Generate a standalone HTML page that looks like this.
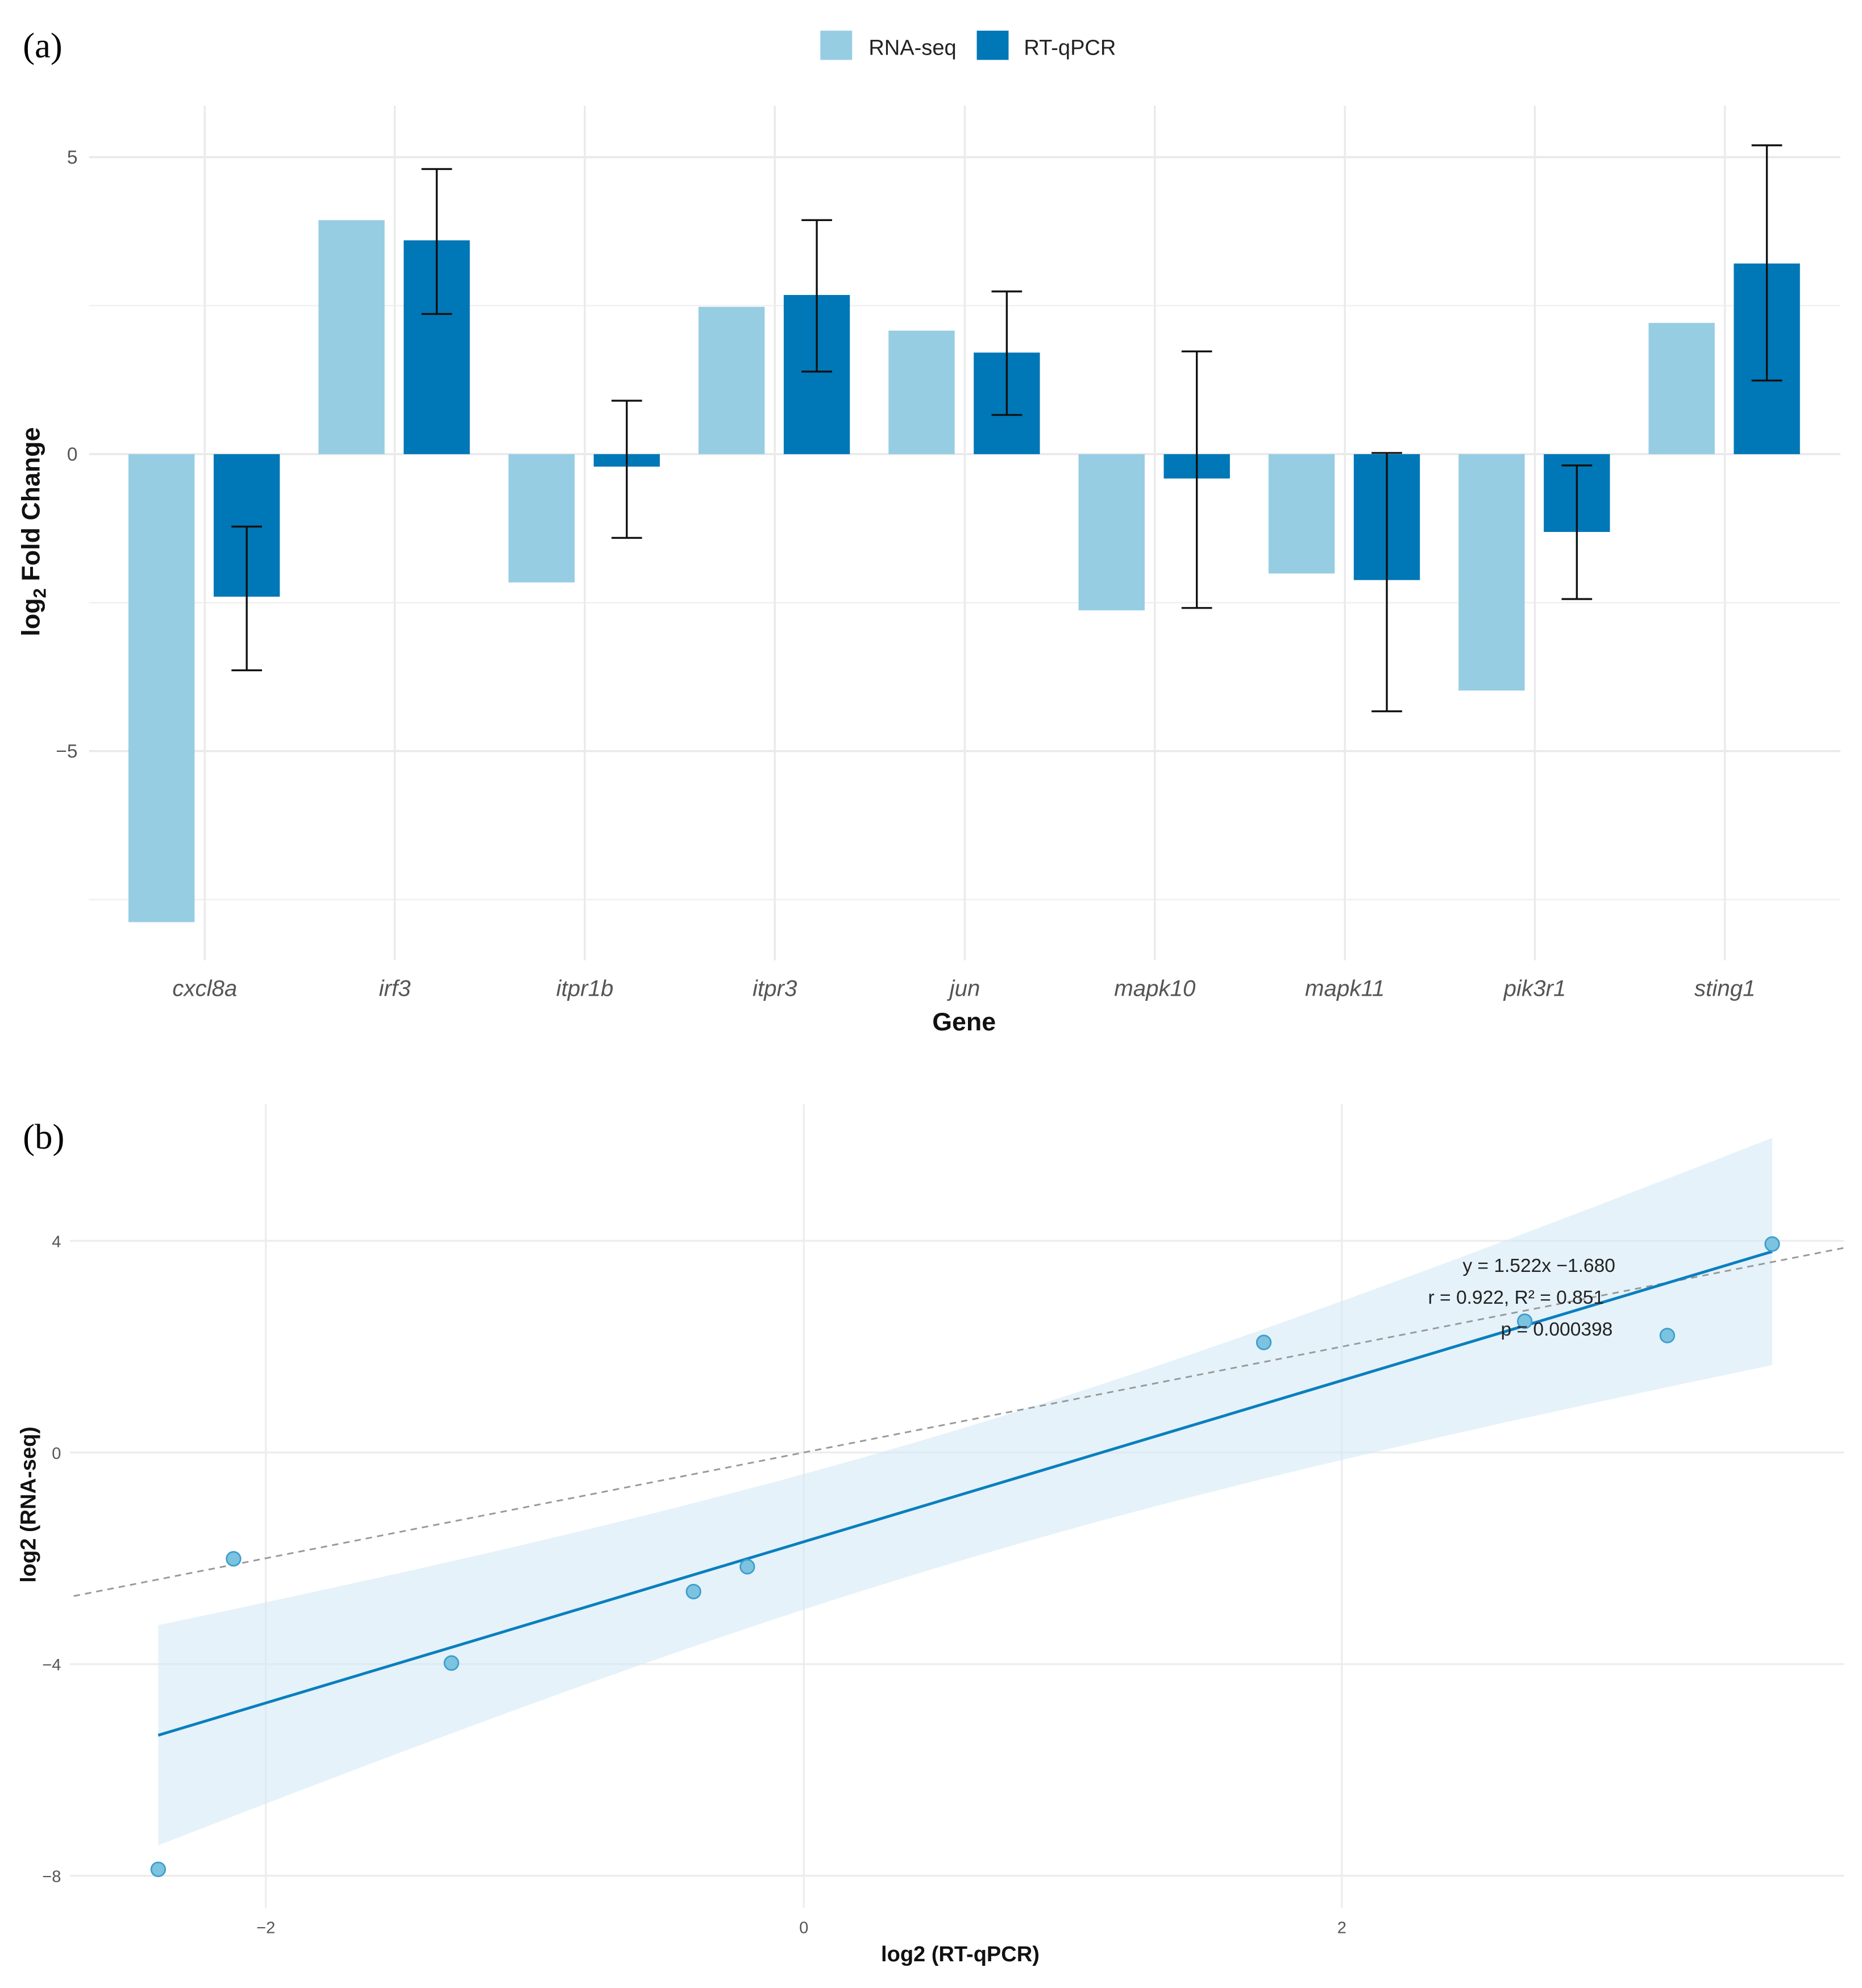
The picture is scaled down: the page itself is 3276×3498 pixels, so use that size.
<!DOCTYPE html>
<html><head><meta charset="utf-8">
<style>
html,body{margin:0;padding:0;background:#fff;}
svg{display:block;}
text{font-family:"Liberation Sans",sans-serif;}
</style></head>
<body>
<svg id="fig" xmlns="http://www.w3.org/2000/svg" width="3276" height="3498" viewBox="0 0 1464 1563">
<rect width="1464" height="1563" fill="#fff"/>
<g id="pa"></g>
<g id="pb"></g>
</svg>
<script>
const genes = ["cxcl8a","irf3","itpr1b","itpr3","jun","mapk10","mapk11","pik3r1","sting1"];
const rnaSeq = [-7.88,3.94,-2.16,2.48,2.08,-2.63,-2.01,-3.98,2.21];
const qpcr = [-2.40,3.60,-0.21,2.68,1.71,-0.41,-2.12,-1.31,3.21];
const errHigh = [-1.22,4.80,0.90,3.94,2.74,1.73,0.02,-0.19,5.20];
const errLow = [-3.64,2.36,-1.41,1.39,0.66,-2.59,-4.33,-2.44,1.24];
const yTicksA = [5,0,-5];
const yMinorA = [2.5,-2.5,-7.5];
const xTicksB = [-2,0,2];
const yTicksB = [4,0,-4,-8];

const NS="http://www.w3.org/2000/svg";
function el(parent,tag,attrs,text){const e=document.createElementNS(NS,tag);for(const k in attrs)e.setAttribute(k,attrs[k]);if(text!==undefined)e.textContent=text;parent.appendChild(e);return e;}
function fmt(v){return v<0?"\u2212"+Math.abs(v):String(v);}
const SERIF='font-family:"Liberation Serif",serif';

// ---------- Panel A ----------
const pa=document.getElementById('pa');
const yA=v=>357-v*46.7;
const xA=i=>161+i*149.4;
let t=el(pa,'text',{x:18,y:45,'font-size':28,style:SERIF,fill:'#000'},'(a)');

let lg=el(pa,'g',{});
let r=el(lg,'rect',{x:645,y:24,width:25,height:23,fill:'#96cde3'});
t=el(lg,'text',{x:683,y:43,'font-size':17,fill:'#222'},'RNA-seq');
r=el(lg,'rect',{x:768,y:24,width:25,height:23,fill:'#0077b6'});
t=el(lg,'text',{x:805,y:43,'font-size':17,fill:'#222'},'RT-qPCR');
yMinorA.forEach(v=>{let l=el(pa,'line',{x1:70,x2:1447,y1:yA(v),y2:yA(v),stroke:'#f1f1f1','stroke-width':1.2});});
yTicksA.forEach(v=>{let l=el(pa,'line',{x1:70,x2:1447,y1:yA(v),y2:yA(v),stroke:'#e9e9e9','stroke-width':1.6});
 let tx=el(pa,'text',{x:61,y:yA(v)+5,'font-size':15,fill:'#555','text-anchor':'end'},fmt(v));});
genes.forEach((g,i)=>{let l=el(pa,'line',{x1:xA(i),x2:xA(i),y1:83,y2:755,stroke:'#ebebeb','stroke-width':1.6});});
genes.forEach((g,i)=>{
 const cl=xA(i)-34, cd=xA(i)+33, w=52;
 let v=rnaSeq[i];
 let b=el(pa,'rect',{x:cl-w/2,y:Math.min(yA(0),yA(v)),width:w,height:Math.abs(yA(v)-yA(0)),fill:'#96cde3'});
 
 v=qpcr[i];
 b=el(pa,'rect',{x:cd-w/2,y:Math.min(yA(0),yA(v)),width:w,height:Math.abs(yA(v)-yA(0)),fill:'#0077b6'});
 
 let eg=el(pa,'g',{stroke:'#111','stroke-width':1.5});
 el(eg,'line',{x1:cd,x2:cd,y1:yA(errHigh[i]),y2:yA(errLow[i])});
 el(eg,'line',{x1:cd-12,x2:cd+12,y1:yA(errHigh[i]),y2:yA(errHigh[i])});
 el(eg,'line',{x1:cd-12,x2:cd+12,y1:yA(errLow[i]),y2:yA(errLow[i])});
 let tx=el(pa,'text',{x:xA(i),y:783,'font-size':18,'font-style':'italic',fill:'#555','text-anchor':'middle'},g);
 
});
t=el(pa,'text',{x:758,y:810,'font-size':20,'font-weight':'bold',fill:'#111','text-anchor':'middle'},'Gene');
t=el(pa,'text',{x:0,y:0,'font-size':20,'font-weight':'bold',fill:'#111','text-anchor':'middle',transform:'translate(31,418) rotate(-90)'});

t.innerHTML='log<tspan font-size="14" dy="5">2</tspan><tspan dy="-5"> Fold Change</tspan>';

// ---------- Panel B ----------
const pb=document.getElementById('pb');
const xB=v=>632+v*211.5;
const yB=v=>1142-v*41.6;
t=el(pb,'text',{x:18,y:903,'font-size':28,style:SERIF,fill:'#000'},'(b)');

yTicksB.forEach(v=>{let l=el(pb,'line',{x1:55,x2:1450,y1:yB(v),y2:yB(v),stroke:'#ececec','stroke-width':1.4});
 let tx=el(pb,'text',{x:48,y:yB(v)+5,'font-size':13,fill:'#555','text-anchor':'end'},fmt(v));});
xTicksB.forEach(v=>{let l=el(pb,'line',{x1:xB(v),x2:xB(v),y1:868,y2:1500,stroke:'#ececec','stroke-width':1.4});
 let tx=el(pb,'text',{x:xB(v),y:1520,'font-size':13,fill:'#555','text-anchor':'middle'},fmt(v));});
const n=qpcr.length;
const mx=qpcr.reduce((a,b)=>a+b,0)/n, my=rnaSeq.reduce((a,b)=>a+b,0)/n;
let sxx=0,sxy=0;for(let i=0;i<n;i++){sxx+=(qpcr[i]-mx)**2;sxy+=(qpcr[i]-mx)*(rnaSeq[i]-my);}
const slope=sxy/sxx, icpt=my-slope*mx;
let sse=0;for(let i=0;i<n;i++){sse+=(rnaSeq[i]-(icpt+slope*qpcr[i]))**2;}
const s=Math.sqrt(sse/(n-2)), tq=2.365;
const xmin=Math.min(...qpcr), xmax=Math.max(...qpcr);
let up=[],lo=[];
for(let k=0;k<=60;k++){const x=xmin+(xmax-xmin)*k/60;const f=icpt+slope*x;const h=tq*s*Math.sqrt(1/n+(x-mx)**2/sxx);
 up.push(xB(x).toFixed(1)+','+yB(f+h).toFixed(1));lo.unshift(xB(x).toFixed(1)+','+yB(f-h).toFixed(1));}
let band=el(pb,'polygon',{points:up.concat(lo).join(' '),fill:'#d3e9f5','fill-opacity':0.6});

let idl=el(pb,'line',{x1:xB(-2.714),y1:yB(-2.714),x2:xB(3.87),y2:yB(3.87),stroke:'#999','stroke-width':1.3,'stroke-dasharray':'5,4'});

let fl=el(pb,'line',{x1:xB(xmin),y1:yB(icpt+slope*xmin),x2:xB(xmax),y2:yB(icpt+slope*xmax),stroke:'#0a7fbf','stroke-width':2.2});

for(let i=0;i<n;i++){let c=el(pb,'circle',{cx:xB(qpcr[i]),cy:yB(rnaSeq[i]),r:5.5,fill:'#7cc3e0',stroke:'#3d9dcc','stroke-width':1.2});
 }
let ann=el(pb,'g',{'font-size':15,fill:'#222','text-anchor':'middle'});
el(ann,'text',{x:1210,y:1000},'y = 1.522x \u22121.680');
el(ann,'text',{x:1192,y:1025},'r = 0.922,  R\u00b2 = 0.851');
el(ann,'text',{x:1224,y:1050},'p = 0.000398');
t=el(pb,'text',{x:755,y:1542,'font-size':17,'font-weight':'bold',fill:'#111','text-anchor':'middle'},'log2 (RT-qPCR)');
t=el(pb,'text',{x:0,y:0,'font-size':17,'font-weight':'bold',fill:'#111','text-anchor':'middle',transform:'translate(28,1183) rotate(-90)'},'log2 (RNA-seq)');
</script>
</body></html>
